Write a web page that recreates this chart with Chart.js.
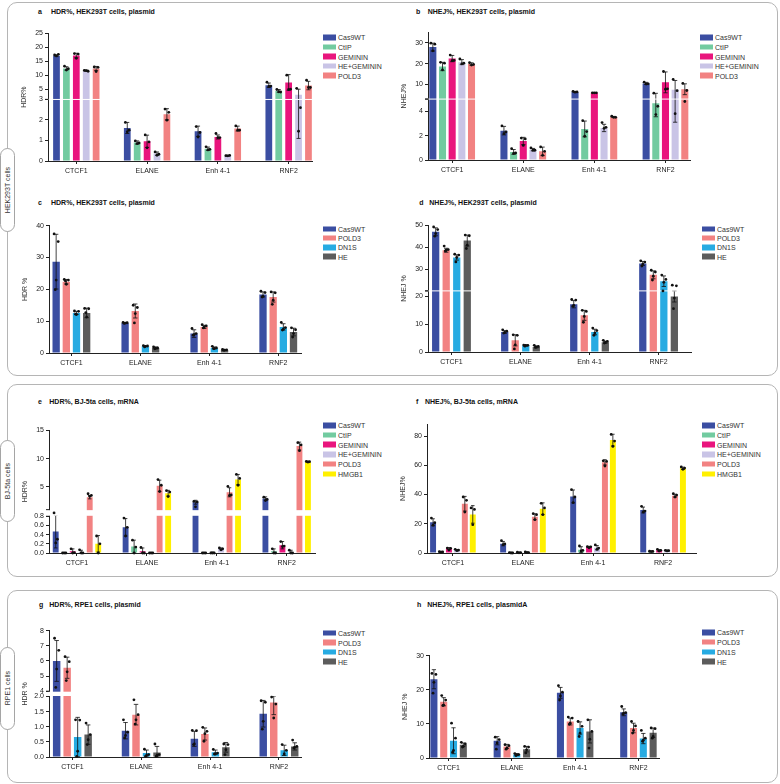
<!DOCTYPE html>
<html>
<head>
<meta charset="utf-8">
<script src="https://cdn.jsdelivr.net/npm/chart.js@4.4.1/dist/chart.umd.min.js"></script>
<style>
  body { margin: 0; background: #fff; font-family: "Liberation Sans", Arial, sans-serif; }
  #page { position: relative; width: 780px; height: 784px; overflow: hidden; }
  .frame { position: absolute; border: 1px solid #b5b5b5; border-radius: 10px; box-sizing: border-box; }
  .tab { position: absolute; left: 0; width: 15px; border: 1px solid #a5a5a5; border-radius: 8px; background: #fff;
         box-sizing: border-box; display: flex; align-items: center; justify-content: center; }
  .tab span { writing-mode: vertical-rl; transform: rotate(180deg); font-size: 7px; color: #333; white-space: nowrap; }
  .title { position: absolute; font-size: 7px; font-weight: bold; color: #111; transform: translateY(-50%); white-space: nowrap; }
  .legend-row { position: absolute; display: flex; align-items: center; font-size: 7px; color: #333;
                transform: translateY(-50%); white-space: nowrap; }
  .legend-row i { display: inline-block; width: 13px; height: 5.5px; margin-right: 2px; }
  canvas { position: absolute; }
</style>
</head>
<body>
<div id="page">
  <div class="frame" style="left:7px;top:2px;width:771px;height:374px"></div>
  <div class="frame" style="left:7px;top:384px;width:771px;height:193px"></div>
  <div class="frame" style="left:7px;top:590px;width:771px;height:193px"></div>
  <div class="tab" style="top:148px;height:84px"><span>HEK293T cells</span></div>
  <div class="tab" style="top:440px;height:82px"><span>BJ-5ta cells</span></div>
  <div class="tab" style="top:647px;height:83px"><span>RPE1 cells</span></div>
</div>
<script>
const categories = ['CTCF1', 'ELANE', 'Enh 4-1', 'RNF2'];
const fiveSeries = ['Cas9WT', 'CtIP', 'GEMININ', 'HE+GEMININ', 'POLD3'];
const sixSeries = ['Cas9WT', 'CtIP', 'GEMININ', 'HE+GEMININ', 'POLD3', 'HMGB1'];
const fourSeries = ['Cas9WT', 'POLD3', 'DN1S', 'HE'];

// a: HDR%, HEK293T, plasmid (rows = series, cols = categories)
const aMean = [[17.0, 1.61, 1.45, 6.5], [12.5, 0.90, 0.60, 4.5], [17.1, 0.96, 1.17, 7.5], [11.7, 0.36, 0.26, 3.1], [12.5, 2.28, 1.58, 6.4]];
const aSd = [[0.3, 0.27, 0.25, 0.8], [0.6, 0.08, 0.08, 0.5], [0.8, 0.30, 0.10, 2.8], [0.2, 0.08, 0.02, 2.0], [0.7, 0.27, 0.12, 1.5]];
const aDots = [
  [[17.3, 17.5, 17.0], [1.88, 1.5, 1.42], [1.68, 1.39, 1.17], [7.6, 6.2, 6.1]],
  [[13.3, 12.4, 11.9], [0.98, 0.88, 0.85], [0.69, 0.57, 0.54], [5.0, 4.1, 4.2]],
  [[17.8, 17.6, 16.1], [1.27, 0.93, 0.64], [1.34, 1.14, 1.14], [10.1, 5.1, 5.0]],
  [[11.8, 11.5, 11.7], [0.44, 0.33, 0.28], [0.26, 0.27, 0.25], [5.4, 2.6, 1.45]],
  [[13.0, 12.9, 11.4], [2.53, 2.37, 1.99], [1.71, 1.5, 1.5], [8.3, 5.7, 5.7]]
];
const aTicks = [0, 1, 2, 3, 5, 10, 15, 20, 25];

// b: NHEJ%, HEK293T, plasmid
const bMean = [[27.9, 2.41, 6.4, 10.5], [18.6, 0.66, 2.55, 4.65], [22.4, 1.56, 6.0, 11.0], [20.7, 0.85, 2.63, 7.5], [19.8, 0.71, 3.53, 7.7]];
const bSd = [[1.9, 0.35, 0.2, 0.5], [2.0, 0.2, 0.65, 1.1], [1.5, 0.3, 0.05, 5.0], [1.2, 0.1, 0.3, 4.4], [0.6, 0.35, 0.05, 2.6]];
const bDots = [
  [[29.8, 29.3, 26.1], [2.8, 2.3, 2.16], [6.7, 6.4, 6.3], [11.1, 10.3, 10.2]],
  [[20.6, 20.2, 17.0], [0.93, 0.58, 0.55], [3.23, 2.33, 1.95], [5.8, 4.41, 3.73]],
  [[24.1, 21.5, 21.4], [1.8, 1.73, 1.2], [6.0, 6.0, 6.0], [16.2, 7.9, 7.7]],
  [[22.2, 20.2, 19.9], [0.99, 0.8, 0.8], [3.07, 2.68, 2.6], [12.4, 7.0, 3.8]],
  [[20.4, 19.6, 19.3], [1.07, 0.71, 0.38], [3.59, 3.5, 3.5], [10.5, 7.1, 4.8]]
];
const bTicks = [0, 2, 4, 10, 20, 30];

// c: HDR %, HEK293T, plasmid
const cMean = [[28.7, 9.45, 6.1, 18.4], [22.4, 13.2, 8.2, 17.6], [12.6, 2.1, 1.6, 8.2], [12.6, 1.6, 0.95, 6.6]];
const cSd = [[8.6, 0.15, 1.2, 0.8], [0.7, 2.2, 0.5, 1.6], [0.5, 0.1, 0.3, 1.0], [1.5, 0.3, 0.15, 1.2]];
const cDots = [
  [[37.4, 35.0, 22.9, 19.9], [9.6, 9.5, 9.4, 9.3], [7.7, 6.1, 5.8, 5.6], [19.4, 19.0, 17.8, 17.6]],
  [[23.1, 22.9, 21.6, 22.6], [15.0, 14.3, 12.4, 9.45], [8.9, 8.5, 8.2, 7.9], [19.2, 18.9, 16.6, 15.3]],
  [[13.2, 13.1, 12.1, 12.2], [2.3, 2.2, 2.1, 1.9], [2.1, 1.6, 1.4, 1.4], [9.6, 8.0, 7.5, 7.2]],
  [[14.0, 13.9, 11.3, 12.7], [1.9, 1.6, 1.5, 1.3], [1.1, 1.0, 0.9, 0.9], [7.9, 7.3, 6.1, 5.0]]
];
const cTicks = [0, 10, 20, 30, 40];

// d: NHEJ %, HEK293T, plasmid
const dMean = [[47.0, 7.2, 17.2, 32.6], [38.6, 4.2, 13.2, 27.4], [35.3, 2.3, 7.2, 24.5], [43.0, 1.8, 3.5, 20.0]];
const dSd = [[1.8, 0.5, 1.3, 0.9], [0.9, 2.0, 1.8, 1.8], [1.2, 0.2, 1.0, 2.4], [2.5, 0.3, 0.4, 2.0]];
const dDots = [
  [[49.2, 48.0, 46.2, 45.0], [8.0, 7.5, 7.1, 6.8], [18.9, 18.7, 16.8, 16.5], [33.8, 33.2, 32.3, 31.4]],
  [[40.5, 38.9, 38.6, 38.3], [6.2, 6.0, 2.6, 1.1], [15.0, 14.6, 12.8, 10.7], [29.5, 28.7, 26.8, 25.0]],
  [[36.8, 36.4, 35.3, 33.3], [2.5, 2.4, 2.4, 2.1], [8.6, 7.7, 6.8, 6.0], [27.3, 25.3, 24.0, 22.0]],
  [[45.5, 45.2, 40.9, 39.4], [2.4, 2.0, 1.8, 1.7], [4.2, 3.8, 3.5, 3.2], [22.7, 22.4, 19.4, 15.6]]
];
const dTicks = [0, 10, 20, 30, 40, 50];

// e: HDR%, BJ-5ta, mRNA
const eMean = [[0.47, 0.56, 2.3, 2.95], [0.0, 0.14, 0.0, 0.04], [0.04, 0.04, 0.0, 0.17], [0.02, 0.0, 0.09, 0.02], [3.2, 5.2, 4.06, 12.2], [0.2, 3.9, 6.3, 9.4]];
const eSd = [[0.36, 0.19, 0.35, 0.3], [0.0, 0.14, 0.0, 0.05], [0.05, 0.07, 0.02, 0.08], [0.04, 0.0, 0.02, 0.04], [0.3, 1.0, 0.8, 0.7], [0.18, 0.5, 0.9, 0.1]];
const eDots = [
  [[0.9, 0.3, 0.22], [0.76, 0.56, 0.37], [2.45, 2.35, 1.5], [3.2, 2.8, 2.6]],
  [[0, 0, 0], [0.28, 0.13, 0], [0, 0, 0], [0.09, 0, 0]],
  [[0.09, 0.01, 0], [0.12, 0, 0], [0, 0, 0], [0.25, 0.15, 0.14]],
  [[0.07, 0, 0], [0, 0, 0], [0.11, 0.09, 0.07], [0.06, 0, 0]],
  [[3.8, 3.5, 3.35], [6.3, 5.3, 4.2], [5.1, 3.6, 3.5], [12.8, 12.4, 11.4]],
  [[0.37, 0.2, 0], [4.35, 4.1, 3.3], [7.2, 6.5, 5.3], [9.5, 9.45, 9.4]]
];
const eTicks = [0, 0.2, 0.4, 0.6, 0.8, 5, 10, 15];
const eTickLabels = ['0.0', '0.2', '0.4', '0.6', '0.8', '5', '10', '15'];

// f: NHEJ%, BJ-5ta, mRNA
const fMean = [[21.0, 6.4, 38.7, 29.4], [0.7, 0.0, 2.3, 1.1], [3.0, 0.3, 4.1, 1.8], [2.0, 0.4, 3.6, 1.6], [33.7, 24.8, 62.0, 39.2], [26.4, 30.3, 77.2, 57.9]];
const fSd = [[2.4, 1.5, 4.4, 2.0], [0.4, 0.5, 2.0, 0.3], [0.7, 0.3, 0.4, 0.5], [0.4, 0.4, 1.5, 0.3], [5.0, 2.0, 1.8, 1.0], [6.0, 4.0, 4.0, 0.8]];
const fDots = [
  [[23.9, 20.7, 19.0], [8.4, 6.2, 5.7], [43.3, 38.3, 34.4], [31.9, 28.7, 28.0]],
  [[0.9, 0.7, 0.5], [0.2, 0, 0], [4.8, 1.8, 1.4], [1.2, 1.1, 1.0]],
  [[3.4, 3.2, 2.0], [0.5, 0.3, 0.1], [4.3, 4.2, 3.6], [2.5, 1.8, 1.3]],
  [[2.5, 2.0, 1.6], [0.7, 0.3, 0.2], [5.5, 3.4, 2.5], [1.8, 1.6, 1.4]],
  [[38.3, 36.0, 28.0], [26.9, 26.2, 22.8], [63.0, 62.6, 59.5], [40.5, 39.6, 38.3]],
  [[30.8, 29.8, 19.4], [34.0, 30.8, 26.2], [81.1, 76.5, 72.9], [58.8, 58.1, 57.2]]
];
const fTicks = [0, 20, 40, 60, 80];

// g: HDR %, RPE1, plasmid
const gMean = [[6.0, 0.87, 0.6, 1.43], [5.55, 1.4, 0.76, 1.8], [0.66, 0.13, 0.16, 0.22], [0.74, 0.15, 0.32, 0.35]];
const gSd = [[1.35, 0.27, 0.25, 0.44], [0.7, 0.34, 0.2, 0.4], [0.65, 0.1, 0.07, 0.17], [0.32, 0.2, 0.16, 0.12]];
const gDots = [
  [[7.5, 6.7, 5.46, 4.25], [1.23, 0.82, 0.71, 0.63], [0.88, 0.87, 0.43, 0.41], [1.86, 1.81, 1.18, 0.92]],
  [[6.28, 5.95, 5.28, 4.7], [1.89, 1.4, 1.23, 1.09], [0.98, 0.85, 0.77, 0.52], [1.98, 1.75, 1.29]],
  [[1.23, 1.22, 0.19, 0.02], [0.26, 0.08, 0.05, 0.02], [0.25, 0.13, 0.1, 0.1], [0.41, 0.22, 0.1]],
  [[1.12, 0.74, 0.57, 0.41], [0.43, 0.08, 0.05, 0.02], [0.43, 0.41, 0.24, 0.08], [0.56, 0.35, 0.32, 0.3]]
];
const gTicks = [0, 0.5, 1, 1.5, 2, 4, 5, 6, 7, 8];
const gTickLabels = ['0.0', '0.5', '1.0', '1.5', '2.0', '4', '5', '6', '7', '8'];

// h: NHEJ %, RPE1, plasmidA
const hMean = [[23.1, 5.06, 19.1, 13.4], [16.5, 3.4, 10.7, 8.8], [5.06, 1.0, 8.8, 5.7], [3.9, 2.6, 7.8, 7.4]];
const hSd = [[2.8, 1.2, 1.6, 1.0], [1.2, 0.6, 1.0, 1.4], [3.8, 0.3, 1.8, 1.5], [0.5, 0.8, 3.4, 1.4]];
const hDots = [
  [[24.8, 24.5, 22.2, 19.0], [6.1, 5.4, 4.4, 2.6], [21.2, 19.3, 18.2, 17.0], [15.1, 13.3, 13.1, 12.9]],
  [[18.3, 17.0, 15.5, 15.4], [3.9, 3.6, 2.9, 2.6], [12.0, 11.7, 10.2, 9.9], [10.7, 9.4, 8.1, 7.3]],
  [[10.2, 5.8, 2.2, 1.7], [1.3, 1.0, 0.9, 0.7], [10.7, 9.3, 7.3, 6.3], [8.1, 5.8, 5.2, 4.9]],
  [[4.6, 4.1, 3.4, 3.2], [3.4, 3.2, 2.4, 1.5], [11.2, 7.8, 5.5, 2.9], [8.8, 8.6, 6.3, 5.8]]
];
const hTicks = [0, 10, 20, 30];

const seriesColors = {
  'Cas9WT': '#3b4ea2', 'CtIP': '#72cba0', 'GEMININ': '#e9157d', 'HE+GEMININ': '#c9c4e6',
  'POLD3': '#f28282', 'HMGB1': '#fff000', 'DN1S': '#27abe2', 'HE': '#5c5c5c'
};

const asLabels = t => t.map(String);

const panelSpecs = {
  a: { letter: 'a', title: 'HDR%, HEK293T cells, plasmid', yTitle: 'HDR%', series: fiveSeries, mean: aMean, sd: aSd, dots: aDots,
       ticks: aTicks, tickLabels: asLabels(aTicks), max: 25, brk: { lowMax: 3, highMin: 3, lowFrac: 0.482, highFrac: 0.516 } },
  b: { letter: 'b', title: 'NHEJ%, HEK293T cells, plasmid', yTitle: 'NHEJ%', series: fiveSeries, mean: bMean, sd: bSd, dots: bDots,
       ticks: bTicks, tickLabels: asLabels(bTicks), max: 35, brk: { lowMax: 5, highMin: 5, lowFrac: 0.477, highFrac: 0.51 } },
  c: { letter: 'c', title: 'HDR%, HEK293T cells, plasmid', yTitle: 'HDR %', series: fourSeries, mean: cMean, sd: cSd, dots: cDots,
       ticks: cTicks, tickLabels: asLabels(cTicks), max: 40, brk: null },
  d: { letter: 'd', title: 'NHEJ%, HEK293T cells, plasmid', yTitle: 'NHEJ %', series: fourSeries, mean: dMean, sd: dSd, dots: dDots,
       ticks: dTicks, tickLabels: asLabels(dTicks), max: 50, brk: { lowMax: 22, highMin: 22, lowFrac: 0.482, highFrac: 0.515 } },
  e: { letter: 'e', title: 'HDR%, BJ-5ta cells, mRNA', yTitle: 'HDR%', series: sixSeries, mean: eMean, sd: eSd, dots: eDots,
       ticks: eTicks, tickLabels: eTickLabels, max: 15, brk: { lowMax: 0.8, highMin: 1, lowFrac: 0.299, highFrac: 0.353 } },
  f: { letter: 'f', title: 'NHEJ%, BJ-5ta cells, mRNA', yTitle: 'NHEJ%', series: sixSeries, mean: fMean, sd: fSd, dots: fDots,
       ticks: fTicks, tickLabels: asLabels(fTicks), max: 88, brk: null },
  g: { letter: 'g', title: 'HDR%, RPE1 cells, plasmid', yTitle: 'HDR %', series: fourSeries, mean: gMean, sd: gSd, dots: gDots,
       ticks: gTicks, tickLabels: gTickLabels, max: 8, brk: { lowMax: 2, highMin: 4, lowFrac: 0.479, highFrac: 0.521 } },
  h: { letter: 'h', title: 'NHEJ%, RPE1 cells, plasmidA', yTitle: 'NHEJ %', series: fourSeries, mean: hMean, sd: hSd, dots: hDots,
       ticks: hTicks, tickLabels: asLabels(hTicks), max: 30, brk: null }
};

// where each panel sits on the page (pixels)
const panelBoxes = {
  a: { letterX: 38, titleX: 51, titleY: 11, axisX: 48, top: 33.3, bottom: 160.7, right: 312, padL: 0.40, padR: 0.33, catPct: 0.70, barPct: 0.68, legX: 323, legY: 37.3, legStep: 9.6 },
  b: { letterX: 416, titleX: 427.7, titleY: 11, axisX: 428.3, top: 32.3, bottom: 160.3, right: 690, padL: 0.34, padR: 0.345, catPct: 0.68, barPct: 0.73, legX: 700, legY: 37.3, legStep: 9.6 },
  c: { letterX: 38, titleX: 51, titleY: 201.7, axisX: 49.3, top: 225.7, bottom: 352.7, right: 301.7, padL: 0.325, padR: 0.34, catPct: 0.59, barPct: 0.72, legX: 323, legY: 229, legStep: 9.2 },
  d: { letterX: 419.3, titleX: 429.3, titleY: 201.7, axisX: 428.3, top: 225, bottom: 352.3, right: 691.7, padL: 0.34, padR: 0.48, catPct: 0.61, barPct: 0.69, legX: 702, legY: 229, legStep: 9.2 },
  e: { letterX: 38, titleX: 49.3, titleY: 401, axisX: 49.3, top: 430, bottom: 552.7, right: 315, padL: 0.40, padR: 0.405, catPct: 0.73, barPct: 0.69, legX: 323, legY: 425.3, legStep: 9.7 },
  f: { letterX: 416, titleX: 425, titleY: 401, axisX: 427.3, top: 424.3, bottom: 552.7, right: 696.7, padL: 0.37, padR: 0.48, catPct: 0.68, barPct: 0.75, legX: 702, legY: 425.3, legStep: 9.7 },
  g: { letterX: 39, titleX: 49.3, titleY: 604.3, axisX: 49.3, top: 630.7, bottom: 757.3, right: 301.7, padL: 0.34, padR: 0.33, catPct: 0.61, barPct: 0.71, legX: 323, legY: 633, legStep: 9.5 },
  h: { letterX: 417, titleX: 427.3, titleY: 604.3, axisX: 429.3, top: 655.7, bottom: 758.3, right: 659.3, padL: 0.31, padR: 0.33, catPct: 0.62, barPct: 0.72, legX: 702, legY: 632.3, legStep: 9.8 }
};

Chart.defaults.font.family = '"Liberation Sans", Arial, sans-serif';
Chart.defaults.font.size = 7;

const panelsById = {};

// linear axis with an optional break (two stacked segments)
const LinearBase = Chart.LinearScale || Chart.registry.getScale('linear');
class BrokenScale extends LinearBase {
  buildTicks() {
    const p = panelsById[this.chart.canvas.id];
    this.start = this.min;
    this.end = this.max;
    return p.ticks.map(v => ({ value: v }));
  }
  getPixelForValue(v) {
    const b = panelsById[this.chart.canvas.id].brk;
    let d;
    if (!b) d = (v - this.min) / (this.max - this.min);
    else if (v <= b.lowMax) d = v / b.lowMax * b.lowFrac;
    else if (v >= b.highMin) d = b.highFrac + (v - b.highMin) / (this.max - b.highMin) * (1 - b.highFrac);
    else d = b.lowFrac + (v - b.lowMax) / (b.highMin - b.lowMax) * (b.highFrac - b.lowFrac);
    return this.getPixelForDecimal(d);
  }
  getValueForPixel(px) {
    return this.min + this.getDecimalForPixel(px) * (this.max - this.min);
  }
}
BrokenScale.id = 'broken';
BrokenScale.defaults = {};
Chart.register(BrokenScale);

const jitter = [-0.28, 0.28, 0, -0.12, 0.12];

// error bars, axis break and replicate dots
const barExtras = {
  id: 'barExtras',
  afterDatasetsDraw(chart) {
    const p = panelsById[chart.canvas.id];
    const ctx = chart.ctx;
    const y = chart.scales.y;
    const area = chart.chartArea;
    ctx.save();
    ctx.strokeStyle = '#111';
    ctx.lineWidth = 0.8;
    chart.data.datasets.forEach((ds, i) => {
      chart.getDatasetMeta(i).data.forEach((bar, j) => {
        const m = ds.data[j], sd = p.sd[i][j];
        if (!sd) return;
        const yHi = y.getPixelForValue(m + sd);
        const yLo = y.getPixelForValue(Math.max(0, m - sd));
        const cap = bar.width * 0.3;
        ctx.beginPath();
        ctx.moveTo(bar.x, yLo); ctx.lineTo(bar.x, yHi);
        ctx.moveTo(bar.x - cap, yHi); ctx.lineTo(bar.x + cap, yHi);
        ctx.moveTo(bar.x - cap, yLo); ctx.lineTo(bar.x + cap, yLo);
        ctx.stroke();
      });
    });
    if (p.brk) {
      const yLow = y.getPixelForValue(p.brk.lowMax);
      const yHigh = y.getPixelForValue(p.brk.highMin);
      ctx.fillStyle = '#fff';
      ctx.fillRect(area.left - 1, yHigh + 0.5, area.right - area.left + 2, yLow - yHigh - 1);
      ctx.strokeStyle = '#222';
      ctx.lineWidth = 1;
      ctx.beginPath();
      ctx.moveTo(area.left - 3, yHigh); ctx.lineTo(area.left + 0.5, yHigh);
      ctx.moveTo(area.left - 3, yLow); ctx.lineTo(area.left + 0.5, yLow);
      ctx.stroke();
    }
    ctx.fillStyle = '#111';
    chart.data.datasets.forEach((ds, i) => {
      chart.getDatasetMeta(i).data.forEach((bar, j) => {
        p.dots[i][j].forEach((v, k) => {
          ctx.beginPath();
          ctx.arc(bar.x + jitter[k] * bar.width, y.getPixelForValue(v), 1.4, 0, Math.PI * 2);
          ctx.fill();
        });
      });
    });
    ctx.restore();
  }
};

const page = document.getElementById('page');

function addText(cls, left, top, html) {
  const el = document.createElement('div');
  el.className = cls;
  el.style.left = left + 'px';
  el.style.top = top + 'px';
  el.innerHTML = html;
  page.appendChild(el);
}

function buildPanel(key) {
  const s = panelSpecs[key], b = panelBoxes[key];
  addText('title', b.letterX, b.titleY, s.letter);
  addText('title', b.titleX, b.titleY, s.title);
  s.series.forEach((name, i) => {
    addText('legend-row', b.legX, b.legY + i * b.legStep, '<i style="background:' + seriesColors[name] + '"></i>' + name);
  });

  const yW = 28, xH = 20;
  const left = Math.round(b.axisX - yW);
  const top = Math.floor(b.top) - 6;
  const width = Math.round(b.right - left) + 6;
  const height = Math.round(b.bottom - top + xH);
  const canvas = document.createElement('canvas');
  canvas.id = 'chart-' + key;
  canvas.width = width;
  canvas.height = height;
  canvas.style.left = left + 'px';
  canvas.style.top = top + 'px';
  canvas.style.width = width + 'px';
  canvas.style.height = height + 'px';
  page.appendChild(canvas);
  panelsById[canvas.id] = s;

  new Chart(canvas, {
    type: 'bar',
    data: {
      labels: categories,
      datasets: s.series.map((name, i) => ({
        label: name,
        data: s.mean[i],
        backgroundColor: seriesColors[name],
        borderWidth: 0,
        categoryPercentage: b.catPct,
        barPercentage: b.barPct
      }))
    },
    options: {
      responsive: false,
      devicePixelRatio: 1,
      animation: false,
      events: [],
      layout: { padding: { top: b.top - top, right: width - (b.right - left), left: 0, bottom: 0 } },
      plugins: { legend: { display: false }, tooltip: { enabled: false } },
      scales: {
        x: {
          offset: false,
          grid: { display: true, drawOnChartArea: false, offset: false, tickLength: 3, color: '#222' },
          border: { display: true, color: '#222', width: 1 },
          ticks: { color: '#222', padding: 3, maxRotation: 0, autoSkip: false },
          afterBuildTicks: sc => {
            sc._startValue = -b.padL;
            sc._valueRange = categories.length - 1 + b.padL + b.padR;
          },
          afterFit: sc => { sc.height = xH; }
        },
        y: {
          type: 'broken',
          min: 0,
          max: s.max,
          grid: { display: true, drawOnChartArea: false, tickLength: 3, color: '#222' },
          border: { display: true, color: '#222', width: 1 },
          ticks: { color: '#222', padding: 2, autoSkip: false, callback: (v, i) => s.tickLabels[i] },
          title: { display: true, text: s.yTitle, color: '#333', padding: 0 },
          afterFit: sc => { sc.width = yW; }
        }
      }
    },
    plugins: [barExtras]
  });
}

Object.keys(panelSpecs).forEach(buildPanel);
</script>
</body>
</html>
